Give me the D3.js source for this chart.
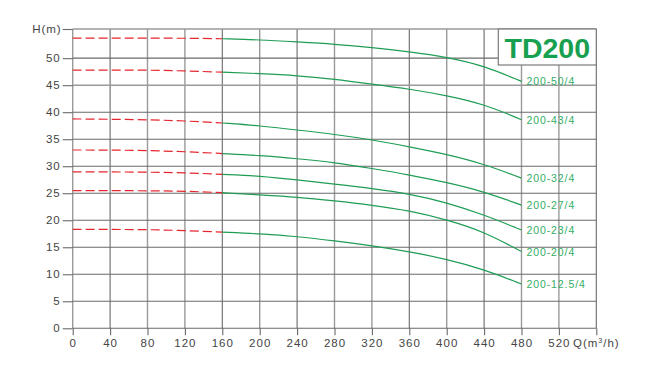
<!DOCTYPE html>
<html>
<head>
<meta charset="utf-8">
<script src="https://cdn.jsdelivr.net/npm/d3@7"></script>
<style>
  html, body { margin: 0; padding: 0; background: #fff; }
  svg { display: block; }
  text { font-family: "Liberation Sans", Arial, sans-serif; }
</style>
</head>
<body>
<script>
// ---- data ----
const flows = [0, 40, 80, 120, 160, 200, 240, 280, 320, 360, 400, 440, 480];
const models = ["200-50/4", "200-43/4", "200-32/4", "200-27/4", "200-23/4", "200-20/4", "200-12.5/4"];
const head_50  = [53.7, 53.7, 53.7, 53.7, 53.6, 53.4, 53.0, 52.6, 52.0, 51.2, 50.2, 48.6, 45.7];
const head_43  = [47.8, 47.8, 47.8, 47.65, 47.4, 47.15, 46.8, 46.1, 45.2, 44.3, 43.1, 41.5, 38.6];
const head_32  = [38.75, 38.7, 38.6, 38.4, 38.0, 37.5, 36.7, 35.9, 34.9, 33.6, 32.2, 30.4, 27.8];
const head_27  = [33.0, 33.0, 32.9, 32.7, 32.35, 32.0, 31.4, 30.7, 29.6, 28.4, 27.0, 25.3, 22.8];
const head_23  = [28.95, 28.95, 28.9, 28.8, 28.5, 28.2, 27.5, 26.7, 25.9, 24.9, 23.3, 21.0, 18.2];
const head_20  = [25.5, 25.5, 25.45, 25.4, 25.1, 24.7, 24.3, 23.6, 22.8, 21.8, 20.1, 17.9, 14.2];
const head_125 = [18.3, 18.3, 18.27, 18.1, 17.8, 17.5, 17.0, 16.2, 15.3, 14.2, 12.8, 10.9, 8.2];
const seriesHeads = [head_50, head_43, head_32, head_27, head_23, head_20, head_125];
const dashedUntil = 160;          // flow where recommended (solid) range starts
const xTicks = [0, 40, 80, 120, 160, 200, 240, 280, 320, 360, 400, 440, 480, 520];
const yTicks = [0, 5, 10, 15, 20, 25, 30, 35, 40, 45, 50];
const xMax = 560, yMax = 55.4;
const title = "TD200";
const xAxisName = "Q(m³/h)", yAxisName = "H(m)";

// ---- chart ----
const W = 657, H = 382;
const svg = d3.select("body").append("svg").attr("width", W).attr("height", H);
const x = d3.scaleLinear().domain([0, xMax]).range([72.7, 596.3]);
const y = d3.scaleLinear().domain([0, yMax]).range([328.3, 29]);

const gridColor = "#6a6a6a";
const lightX = [0, 80, 120, 200, 280, 320, 400, 480, 520];
const grid = svg.append("g");
// vertical grid lines
grid.selectAll("line.v").data(xTicks.concat([xMax])).join("line")
  .attr("x1", d => x(d)).attr("x2", d => x(d))
  .attr("y1", y(0)).attr("y2", y(yMax))
  .attr("stroke", d => lightX.includes(d) ? "#9a9a9a" : gridColor)
  .attr("stroke-width", d => lightX.includes(d) ? 1.4 : 1.1);
// horizontal grid lines
grid.selectAll("line.h").data(yTicks.concat([yMax])).join("line")
  .attr("x1", x(0)).attr("x2", x(xMax))
  .attr("y1", d => y(d)).attr("y2", d => y(d))
  .attr("stroke", d => (d === 45 || d === yMax) ? "#9a9a9a" : gridColor)
  .attr("stroke-width", d => (d === 45 || d === yMax) ? 1.4 : 1.1);

// axes
const fmtX = d => d === xMax ? "" : d;
const xAxis = d3.axisBottom(x).tickValues(xTicks.concat([xMax])).tickSize(7).tickPadding(4).tickFormat(fmtX);
const gx = svg.append("g").attr("transform", `translate(0,${y(0)})`).call(xAxis);
gx.select(".domain").remove();
gx.selectAll(".tick line").attr("stroke", gridColor).attr("stroke-width", 1.1);
gx.selectAll(".tick text").attr("fill", "#444").attr("font-size", 11.5)
  .attr("letter-spacing", 1).attr("font-family", "Liberation Sans, Arial, sans-serif");

const fmtY = d => d === yMax ? "" : d;
const yAxis = d3.axisLeft(y).tickValues(yTicks.concat([yMax])).tickSize(10).tickPadding(2).tickFormat(fmtY);
const gy = svg.append("g").attr("transform", `translate(${x(0)},0)`).call(yAxis);
gy.select(".domain").remove();
gy.selectAll(".tick line").attr("stroke", gridColor).attr("stroke-width", 1.1);
gy.selectAll(".tick text").attr("fill", "#444").attr("font-size", 11.5)
  .attr("letter-spacing", 1).attr("font-family", "Liberation Sans, Arial, sans-serif");

// axis names
svg.append("text").attr("x", x(0) - 11).attr("y", y(yMax)).attr("dy", "0.35em")
  .attr("text-anchor", "end").attr("fill", "#444").attr("font-size", 11.5)
  .attr("letter-spacing", 1).text(yAxisName);
const qLabel = svg.append("text").attr("x", x(xMax)).attr("y", y(0) + 11).attr("dy", "0.71em")
  .attr("text-anchor", "middle").attr("fill", "#444").attr("font-size", 11.5).attr("letter-spacing", 1);
qLabel.append("tspan").text("Q(m");
qLabel.append("tspan").attr("font-size", 7).attr("dy", -4).text("3");
qLabel.append("tspan").attr("dy", 4).text("/h)");

// title box
const boxRight = x(xMax), boxTop = y(yMax);
svg.append("rect").attr("x", boxRight - 98).attr("y", boxTop).attr("width", 98).attr("height", 36)
  .attr("fill", "#fff").attr("stroke", "#7a7a7a").attr("stroke-width", 1.2);
svg.append("text").attr("x", boxRight - 49).attr("y", boxTop + 28.7)
  .attr("text-anchor", "middle").attr("font-size", 28.5).attr("font-weight", "bold")
  .attr("fill", "#17a050").text(title);

// curves
const line = d3.line().x(d => x(d[0])).y(d => y(d[1])).curve(d3.curveBasis);
const curves = svg.append("g");
seriesHeads.forEach((heads, i) => {
  const pts = flows.map((f, j) => [f, heads[j]]);
  const dashed = pts.filter(p => p[0] <= dashedUntil);
  const solid = pts.filter(p => p[0] >= dashedUntil);
  curves.append("path").attr("d", line(dashed)).attr("fill", "none")
    .attr("stroke", "#e6262e").attr("stroke-width", 1.2).attr("stroke-dasharray", "9,4");
  curves.append("path").attr("d", line(solid)).attr("fill", "none")
    .attr("stroke", "#1f9d55").attr("stroke-width", 1.2);
  const last = pts[pts.length - 1];
  curves.append("text").attr("x", x(last[0]) + 5).attr("y", y(last[1])).attr("dy", "0.38em")
    .attr("fill", "#33ad65").attr("font-size", 10.5).attr("letter-spacing", 0.9)
    .text(models[i]);
});
</script>
</body>
</html>
